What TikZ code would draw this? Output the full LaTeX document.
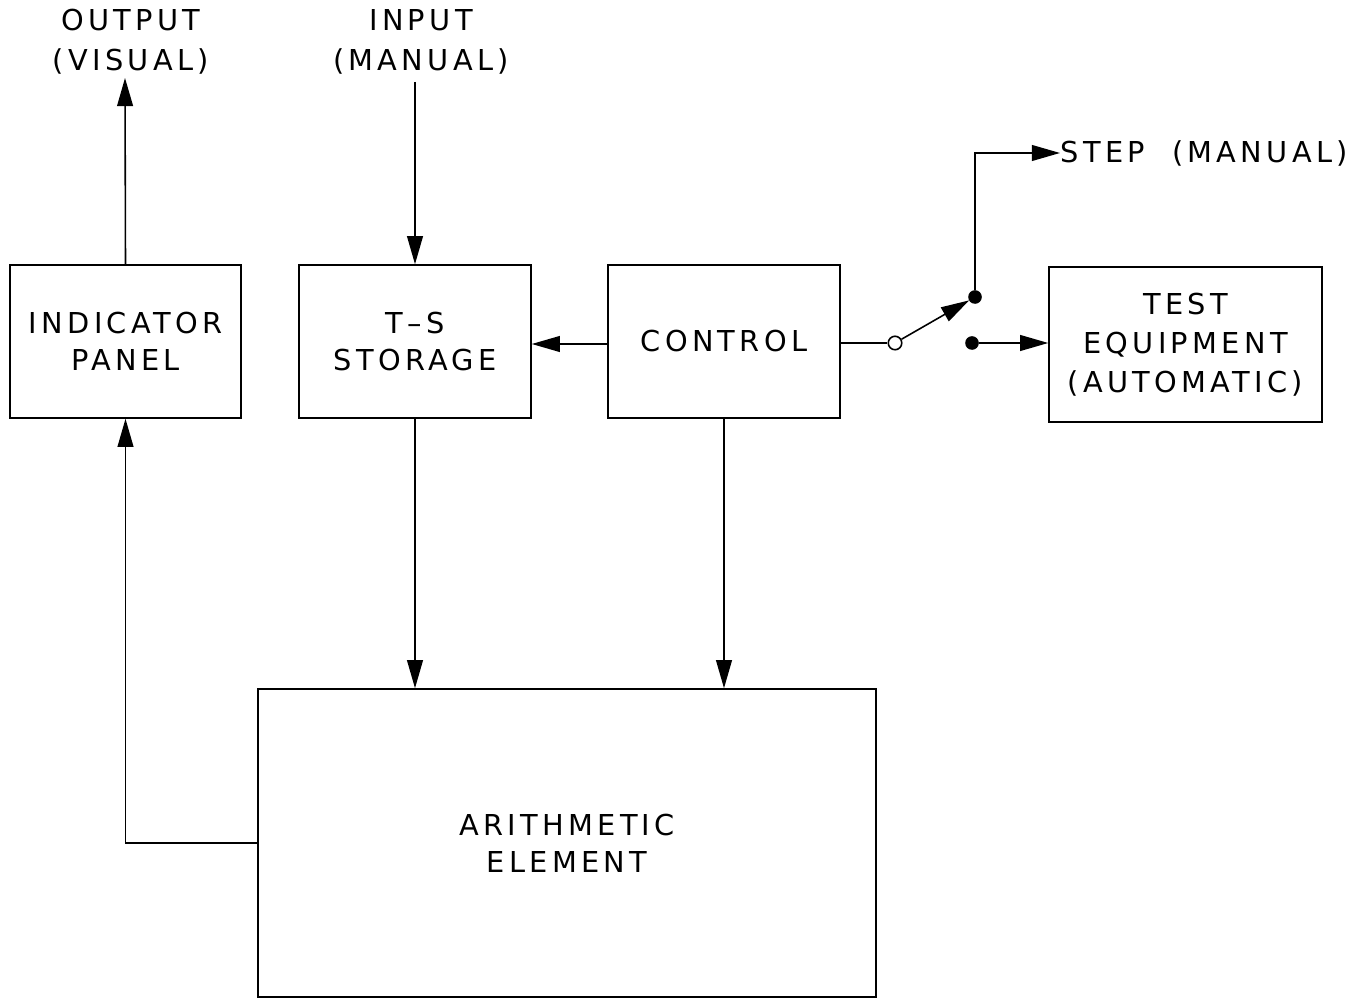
\documentclass[tikz,border=0pt]{standalone}
\usepackage{fontspec}
\setmainfont{DejaVu Sans}[LetterSpace=15]
\usetikzlibrary{arrows.meta,positioning}

\begin{document}
\begin{tikzpicture}[
  x=0.02cm, y=-0.02cm,
  font=\fontsize{16.4}{21}\selectfont,
  line width=0.9pt,
  block/.style={rectangle, draw, align=center, inner sep=2pt},
  lbl/.style={align=center, inner sep=0pt},
  arr/.style={-{Triangle[length=16pt,width=9pt]}},
  opendot/.style={circle, draw, fill=white, minimum size=0.27cm, inner sep=0pt},
  fulldot/.style={circle, draw, fill=black, minimum size=0.24cm, inner sep=0pt},
]
\useasboundingbox (0,0) rectangle (1361,999);
% blocks
\node[block, minimum width=4.62cm, minimum height=3.06cm] (ind)  at (125.5,341.5) {INDICATOR\\PANEL};
\node[block, minimum width=4.64cm, minimum height=3.06cm] (tss)  at (415,341.5)   {T\,--\,S\\STORAGE};
\node[block, minimum width=4.64cm, minimum height=3.06cm] (ctrl) at (724,341.5)   {CONTROL};
\node[block, minimum width=5.46cm, minimum height=3.1cm, font=\fontsize{16.4}{22.2}\selectfont]
  (test) at (1185.5,344.5) {TEST\\EQUIPMENT\\(AUTOMATIC)};
\node[block, minimum width=12.36cm, minimum height=6.16cm] (arith) at (567,843) {ARITHMETIC\\ELEMENT};
% outside labels
\node[lbl, font=\fontsize{16.4}{22.7}\selectfont] (outl) at (131,42) {OUTPUT\\(VISUAL)};
\node[lbl, font=\fontsize{16.4}{22.7}\selectfont] (inl)  at (421,42) {INPUT\\(MANUAL)};
\node[lbl, anchor=west] (stepl) at (1060,153) {STEP\ \ (MANUAL)};
\coordinate (outend) at (125,78);
\coordinate (instart) at (415,82);
% switch
\node[opendot] (sw) at (895,343) {};
\node[fulldot] (up) at (975,297) {};
\node[fulldot] (dn) at (972,343) {};
% connectors
\draw[arr] (ind.north) -- (outend);
\draw[arr] (instart) -- (tss.north);
\draw[arr] (ctrl.west |- 0,344) -- (tss.east |- 0,344);
\draw[arr] (tss.south) -- (tss.south |- arith.north);
\draw[arr] (ctrl.south) -- (ctrl.south |- arith.north);
\draw[arr] (arith.west) -| (ind.south);
\draw (ctrl.east |- sw) -- (sw);
\draw[arr] (sw) -- (up);
\draw[arr] (up) |- (stepl.west);
\draw[arr] (dn) -- (test.west |- dn);
\end{tikzpicture}
\end{document}
